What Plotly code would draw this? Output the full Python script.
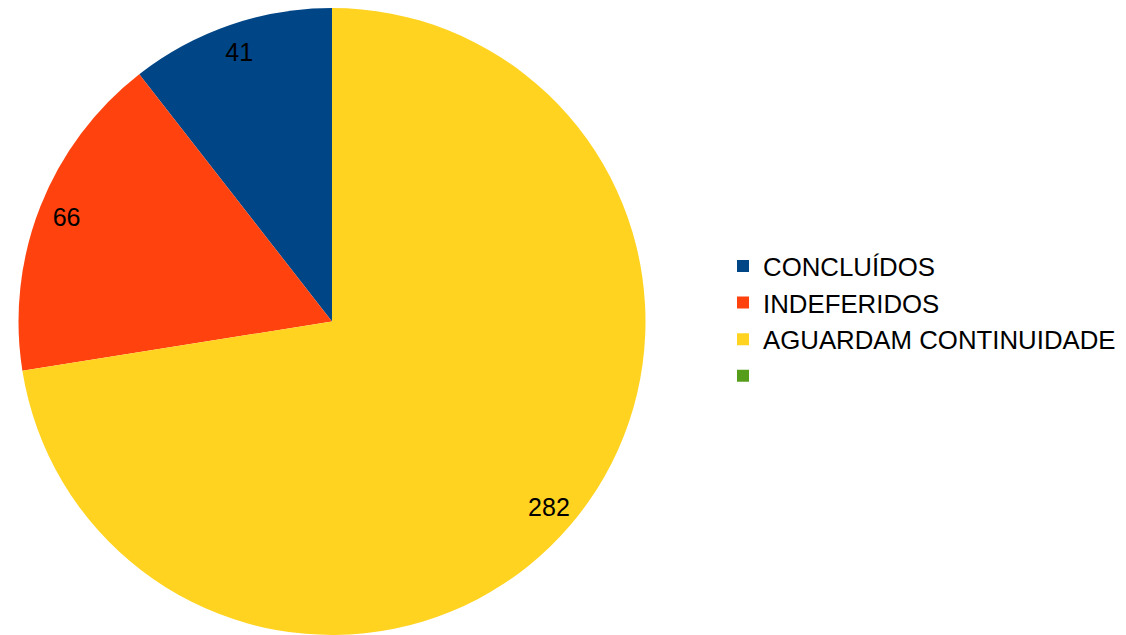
import plotly.graph_objects as go

labels = ["CONCLUÍDOS", "INDEFERIDOS", "AGUARDAM CONTINUIDADE", " "]
values = [41, 66, 282, 0]
colors = ["#004586", "#ff420e", "#ffd320", "#579d1c"]

W, H = 1126, 635
first_angle = values[0] / sum(values) * 360
dom = dict(x=[18 / W, 646 / W], y=[0, 627 / H])

common = dict(
    labels=labels,
    values=values,
    sort=False,
    direction="counterclockwise",
    rotation=-first_angle,
    domain=dom,
)

fig = go.Figure()
fig.add_trace(go.Pie(
    **common,
    marker=dict(colors=colors, line=dict(width=0)),
    textinfo="none",
    hoverinfo="label+value",
    showlegend=True,
))
# transparent ring used only to place the value labels near the rim
fig.add_trace(go.Pie(
    **common,
    hole=0.82,
    marker=dict(colors=["rgba(0,0,0,0)"] * 4, line=dict(width=0)),
    textinfo="value",
    textposition="inside",
    insidetextorientation="horizontal",
    textfont=dict(family="Liberation Sans", size=25, color="black"),
    hoverinfo="skip",
    showlegend=False,
))

fig.update_layout(
    width=W, height=H,
    margin=dict(l=0, r=0, t=0, b=0),
    paper_bgcolor="white",
    plot_bgcolor="white",
    font=dict(family="Liberation Sans", size=25.8, color="black"),
    legend=dict(
        x=723 / W, y=0.494, xanchor="left", yanchor="middle",
        font=dict(family="Liberation Sans", size=25.8, color="black"),
        itemwidth=30,
        traceorder="normal",
    ),
)

fig.write_html(
    "out.html",
    config={"displayModeBar": False},
    post_script="document.body.style.margin='0px';",
)
